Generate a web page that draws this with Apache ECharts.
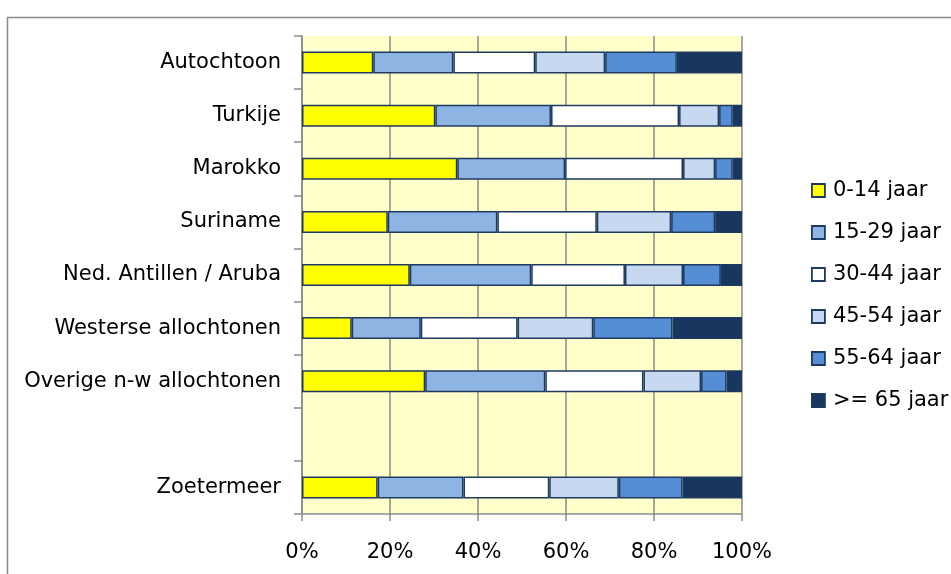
<!DOCTYPE html>
<html>
<head>
<meta charset="utf-8">
<script src="https://cdn.jsdelivr.net/npm/echarts@6/dist/echarts.min.js"></script>
<style>
html,body{margin:0;padding:0;background:#fff;}
#chart{width:951px;height:574px;}
</style>
</head>
<body>
<div id="chart"></div>
<script>
var categories = ['Autochtoon','Turkije','Marokko','Suriname','Ned. Antillen / Aruba','Westerse allochtonen','Overige n-w allochtonen','','Zoetermeer'];
var seriesNames = ['0-14 jaar','15-29 jaar','30-44 jaar','45-54 jaar','55-64 jaar','>= 65 jaar'];
var age0_14  = [16.2, 30.3, 35.3, 19.5, 24.5, 11.3, 28.0, null, 17.2];
var age15_29 = [18.2, 26.3, 24.5, 24.9, 27.6, 15.7, 27.3, null, 19.5];
var age30_44 = [18.6, 29.1, 26.8, 22.6, 21.3, 22.0, 22.3, null, 19.5];
var age45_54 = [15.9,  9.1,  7.3, 16.9, 13.2, 17.2, 13.1, null, 15.8];
var age55_64 = [16.3,  3.1,  4.0, 10.0,  8.6, 18.0,  5.8, null, 14.5];
var age65p   = [14.8,  2.1,  2.1,  6.1,  4.8, 15.8,  3.5, null, 13.5];
var xTicks = [0, 20, 40, 60, 80, 100];

var colors = ['#FFFF00','#8EB4E3','#FFFFFF','#C6D9F1','#558ED5','#17375E'];
var values = [age0_14, age15_29, age30_44, age45_54, age55_64, age65p];
var FONT = 'DejaVu Sans';

var chart = echarts.init(document.getElementById('chart'), null, {renderer:'canvas'});
var series = seriesNames.map(function(n, i){
  return {
    name: n, type: 'bar', stack: 'total', barWidth: 22,
    data: values[i],
    itemStyle: { color: colors[i], borderColor: '#1F3A60', borderWidth: 1.5 },
    emphasis: { disabled: true },
    animation: false
  };
});

chart.setOption({
  animation: false,
  backgroundColor: '#ffffff',
  graphic: [{
    type: 'rect', silent: true, z: -10,
    shape: { x: 7.5, y: 17.5, width: 1200, height: 1200 },
    style: { fill: 'none', stroke: '#8a8a8a', lineWidth: 1.5 }
  }],
  grid: {
    left: 302, top: 36, width: 440, height: 478,
    show: true, backgroundColor: '#FFFFCC', borderWidth: 0
  },
  legend: {
    orient: 'vertical', left: 811, top: 180, padding: 0,
    itemWidth: 13, itemHeight: 13, itemGap: 21,
    icon: 'rect',
    itemStyle: { borderColor: '#1F3A60', borderWidth: 1.8 },
    textStyle: { fontFamily: FONT, fontSize: 21, color: '#000', lineHeight: 21, padding: [0,0,0,3] },
    data: seriesNames
  },
  xAxis: {
    type: 'value', min: xTicks[0], max: xTicks[xTicks.length-1], interval: 20,
    axisLine: { show: true, lineStyle: { color: '#8a8a8a', width: 1.5 } },
    axisTick: { show: true, length: 7, lineStyle: { color: '#8a8a8a', width: 1.5 } },
    splitLine: { show: true, lineStyle: { color: '#8a8a8a', width: 1.5 } },
    axisLabel: { formatter: '{value}%', fontFamily: FONT, fontSize: 21, color: '#000', margin: 28 }
  },
  yAxis: {
    type: 'category', inverse: true, data: categories,
    axisLine: { show: true, lineStyle: { color: '#8a8a8a', width: 1.5 } },
    axisTick: { show: true, length: 8, lineStyle: { color: '#8a8a8a', width: 1.5 } },
    splitLine: { show: false },
    axisLabel: { fontFamily: FONT, fontSize: 21, color: '#000', margin: 21, padding: [3,0,0,0] }
  },
  series: series
});
</script>
</body>
</html>
